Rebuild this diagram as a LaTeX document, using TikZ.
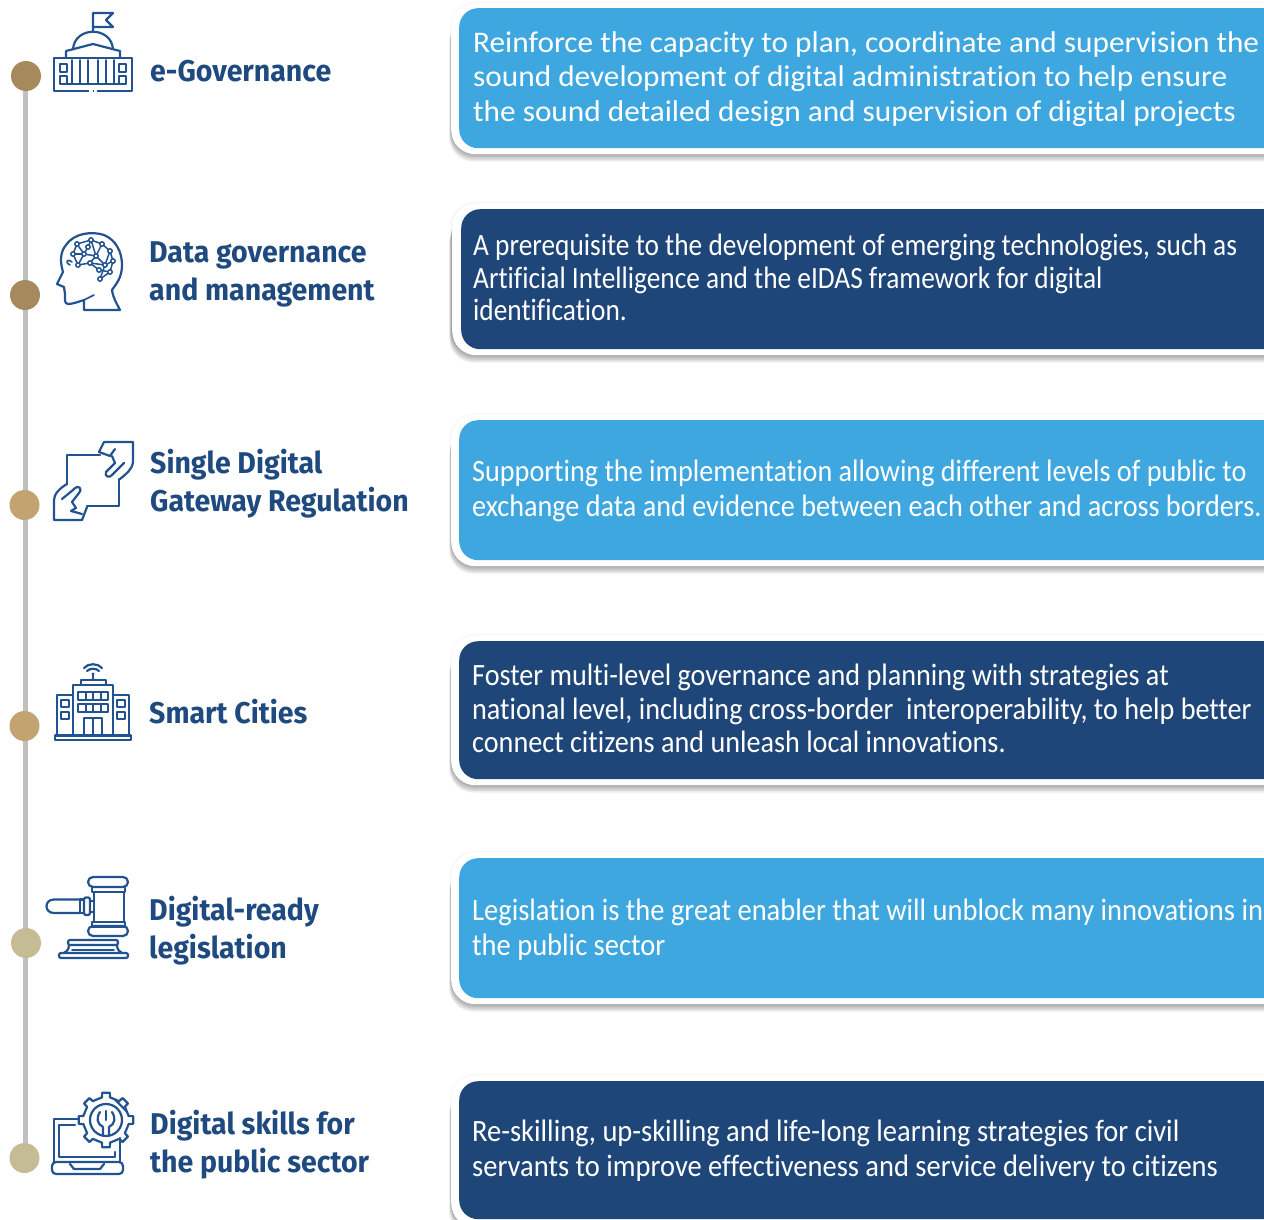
\documentclass[tikz,border=0pt]{standalone}
\usepackage{fontspec}
\usetikzlibrary{backgrounds}
\setmainfont{Carlito}
\newfontfamily\headfont[FakeStretch=0.95]{Fira Sans}
\newfontfamily\bodyA[FakeStretch=1.043,Ligatures=CommonOff]{Carlito}
\newfontfamily\bodyB[FakeStretch=0.882,Ligatures=CommonOff]{Carlito}
\newfontfamily\bodyC[FakeStretch=0.909,Ligatures=CommonOff]{Carlito}
\newfontfamily\bodyD[FakeStretch=0.919,Ligatures=CommonOff]{Carlito}
\definecolor{lightblue}{HTML}{3FA7DF}
\definecolor{darkblue}{HTML}{1F4679}
\definecolor{headblue}{HTML}{1F4A80}
\definecolor{iconblue}{HTML}{22528F}
\definecolor{spinegray}{HTML}{C0C0C0}
\definecolor{dotA}{HTML}{A68A5E}
\definecolor{dotB}{HTML}{C3A36F}
\definecolor{dotC}{HTML}{C5BC95}
\tikzset{
  dot/.style={circle,minimum size=30pt,inner sep=0pt,fill=#1},
  spine/.style={draw=spinegray,line width=5pt},
  head/.style={anchor=west,align=left,inner sep=0pt,text=headblue,font=\headfont\bfseries\fontsize{30}{38}\selectfont},
  txta/.style={anchor=west,align=left,inner sep=0pt,text=white,font=\bodyA\fontsize{30}{34.7}\selectfont},
  txtb/.style={anchor=west,align=left,inner sep=0pt,text=white,font=\bodyB\fontsize{31}{32.5}\selectfont},
  txtc/.style={anchor=west,align=left,inner sep=0pt,text=white,font=\bodyC\fontsize{31}{#1}\selectfont},
  txtd/.style={anchor=west,align=left,inner sep=0pt,text=white,font=\bodyD\fontsize{31}{35}\selectfont},
  panel/.style={anchor=north west,minimum width=830pt,rounded corners=19pt,inner sep=0pt,fill=#1},
  mat/.style={anchor=north west,minimum width=840pt,rounded corners=24pt,inner sep=0pt,fill=white},
  icon/.style={draw=iconblue,line width=2.2pt,line join=round,line cap=round,fill=none},
  thin/.style={draw=iconblue,line width=1.6pt,line join=round,line cap=round,fill=none}
}
\newcommand{\shadowbox}[2]{% top y, height
  \foreach \k in {0,1.5,3,4.5,6,7.5}{
    \fill[black,opacity=0.07,rounded corners=24pt] (451.5-\k*0.3,#1+6+\k*1.5) rectangle (1300,#1+#2+\k);
  }
  \fill[black,opacity=0.03,rounded corners=25pt] (450,#1-1) rectangle (1300,#1+#2);
}
\begin{document}
\begin{tikzpicture}[x=1pt,y=-1pt]
\useasboundingbox (0,0) rectangle (1264,1220);
\clip (0,0) rectangle (1264,1220);

% timeline
\node[dot=dotA] (d1) at (26,76) {};
\node[dot=dotA] (d2) at (25,295) {};
\node[dot=dotB] (d3) at (24.5,505) {};
\node[dot=dotB] (d4) at (24.5,726) {};
\node[dot=dotC] (d5) at (26,943) {};
\node[dot=dotC] (d6) at (24.5,1158) {};
\begin{scope}[on background layer]
\fill[white] (0,0) rectangle (1264,1220);
\foreach \a/\b in {d1/d2,d2/d3,d3/d4,d4/d5,d5/d6}{
  \draw[spine] (25,0 |- \a) -- (25,0 |- \b);
}
\end{scope}

% panels
\shadowbox{3}{151}
\node[mat,minimum height=151pt] (m1) at (451,3) {};
\node[panel=lightblue,minimum height=140pt] (p1) at (459,8) {};
\shadowbox{203}{152}
\node[mat,minimum height=152pt] (m2) at (452,203) {};
\node[panel=darkblue,minimum height=140pt] (p2) at (461,209) {};
\shadowbox{414}{152}
\node[mat,minimum height=152pt] (m3) at (451,414) {};
\node[panel=lightblue,minimum height=140pt] (p3) at (459,420) {};
\shadowbox{635}{150}
\node[mat,minimum height=150pt] (m4) at (451,635) {};
\node[panel=darkblue,minimum height=138pt] (p4) at (459,641) {};
\shadowbox{852}{152}
\node[mat,minimum height=152pt] (m5) at (451,852) {};
\node[panel=lightblue,minimum height=140pt] (p5) at (459,858) {};
\shadowbox{1075}{152}
\node[mat,minimum height=152pt] (m6) at (451,1075) {};
\node[panel=darkblue,minimum height=138pt] (p6) at (459,1081) {};

% panel text
\node[txta] (t1) at (473,79) {Reinforce the capacity to plan, coordinate and supervision the\\sound development of digital administration to help ensure\\the sound detailed design and supervision of digital projects};
\node[txtb] (t2) at (473,277.5) {A prerequisite to the development of emerging technologies, such as\\Artificial Intelligence and the eIDAS framework for digital\\identification.};
\node[txtc=35] (t3) at (472,491) {Supporting the implementation allowing different levels of public to\\exchange data and evidence between each other and across borders.};
\node[txtc=33.5] (t4) at (472,708.5) {Foster multi-level governance and planning with strategies at\\national level, including cross-border\ \ interoperability, to help better\\connect citizens and unleash local innovations.};
\node[txtd] (t5) at (472,930) {Legislation is the great enabler that will unblock many innovations in\\the public sector};
\node[txtd] (t6) at (472,1151) {Re-skilling, up-skilling and life-long learning strategies for civil\\servants to improve effectiveness and service delivery to citizens};

% headings
\node[head] (h1) at (150,71) {e-Governance};
\node[head] (h2) at (149,274) {Data governance\\and management};
\node[head] (h3) at (150,483.5) {Single Digital\\Gateway Regulation};
\node[head] (h4) at (149,712) {Smart Cities};
\node[head] (h5) at (149,931) {Digital-ready\\legislation};
\node[head] (h6) at (150,1145) {Digital skills for\\the public sector};

% icon 1: capitol
\draw[icon] (93,32) -- (93,13) -- (113,13) -- (106,20) -- (113,27) -- (93,27);
\draw[icon] (73,49) .. controls (75,26) and (111,26) .. (113,49);
\draw[icon] (66,58) -- (66,51) -- (93,44) -- (120,51) -- (120,58);
\draw[icon] (54,58) rectangle (132,91);
\foreach \cx in {72,80,88,98,106,114}{\draw[thin] (\cx,60) -- (\cx,84);}
\draw[thin] (66,84) -- (120,84);
\foreach \cy in {64,76}{
 \draw[thin] (60,\cy) rectangle (67,\cy+8);
 \draw[thin] (119,\cy) rectangle (126,\cy+8);
}
\draw[line width=2.4pt,white] (89,91) -- (97,91);
\fill[iconblue] (92.5,90) rectangle (93.5,92);

% icon 2: head
\draw[icon] (120,310) -- (84,310) -- (84,300) .. controls (78,302) and (72,304) .. (68,304)
 .. controls (64,304) and (65,298) .. (65,294) -- (64,287) -- (57,284) -- (63,272)
 .. controls (60,262) and (60,252) .. (66,245) .. controls (74,233) and (92,231) .. (104,235)
 .. controls (116,240) and (122,252) .. (122,265) .. controls (122,278) and (116,284) .. (112,290)
 .. controls (113,298) and (117,304) .. (120,310);
\draw[thin] (84,300) -- (94,295);
\draw[thin] (70,265) .. controls (64,262) and (68,258) .. (72,262);
\coordinate (n1) at (77,244); \coordinate (n2) at (91,240); \coordinate (n3) at (102,244);
\coordinate (n4) at (110,251); \coordinate (n5) at (113,261); \coordinate (n6) at (105,265);
\coordinate (n7) at (96,256); \coordinate (n8) at (84,254); \coordinate (n9) at (73,254);
\coordinate (n10) at (78,265); \coordinate (n11) at (90,263); \coordinate (n12) at (100,279);
\coordinate (n13) at (110,272); \coordinate (n14) at (88,247); \coordinate (n15) at (99,270);
\foreach \a/\b in {n1/n2,n2/n3,n3/n4,n4/n5,n5/n6,n6/n7,n7/n8,n8/n9,n9/n1,n9/n10,n10/n11,n11/n7,n11/n6,n6/n12,n12/n13,n13/n5,n1/n8,n2/n7,n3/n7,n4/n6,n8/n10,n14/n2,n14/n8,n15/n11,n15/n13}{
  \draw[iconblue,line width=1.5pt] (\a) -- (\b);
}
\foreach \a in {n1,n2,n3,n4,n5,n6,n7,n8,n9,n10,n11,n12,n13,n14,n15}{
  \draw[iconblue,line width=1.5pt,fill=white] (\a) circle (2.2);
}

% icon 3: hands and sheet
\draw[icon] (100,455) -- (67,455) -- (67,484);
\draw[icon] (119,479) -- (119,506) -- (87,506);
\draw[icon] (99,452) -- (104,442) -- (133,442) -- (133,462) .. controls (132,470) and (126,474) .. (120,479);
\draw[icon] (99,452) -- (110,456) -- (115,449);
\draw[icon] (112,456) -- (115,463) -- (106,472) .. controls (104,477) and (110,478) .. (112,475) -- (124,463);
\draw[icon] (67,484) .. controls (60,488) and (54,494) .. (54,500) -- (54,520) -- (82,520) -- (87,507);
\draw[icon] (62,499) -- (73,490) .. controls (78,484) and (83,488) .. (79,493) -- (72,502) -- (76,508) -- (71,511);
\draw[icon] (71,511) -- (82,514);

% icon 4: smart building
\draw[icon] (55,735.5) rectangle (131,740);
\draw[icon] (73,735) -- (73,685) -- (113,685) -- (113,735);
\draw[icon] (81,685) -- (81,680) -- (106,680) -- (106,685);
\draw[icon] (93,680) -- (93,675);
\draw[icon] (57,735) -- (57,695) -- (73,695);
\draw[icon] (113,695) -- (129,695) -- (129,735);
\foreach \yy in {700,712}{
  \draw[icon] (61,\yy) rectangle (69,\yy+7);
  \draw[icon] (117,\yy) rectangle (125,\yy+7);
}
\foreach \yy in {692,704}{
  \draw[icon] (78,\yy) rectangle (108,\yy+8);
  \foreach \xx in {86,93,101}{\draw[thin] (\xx,\yy) -- (\xx,\yy+8);}
}
\draw[icon] (84,735) -- (84,718) -- (102,718) -- (102,735);
\draw[thin] (93,718) -- (93,735);
\draw[icon] (84,668) .. controls (88,663) and (98,663) .. (102,668);
\draw[icon] (87,671) .. controls (90,668) and (96,668) .. (99,671);
\fill[iconblue] (93,674) circle (1.6);

% icon 5: gavel
\draw[icon,rounded corners=5pt] (88,877) rectangle (128,887);
\draw[icon] (92,887) rectangle (125,892);
\draw[icon] (94,892) rectangle (124,922);
\draw[icon] (92,922) rectangle (125,927);
\draw[icon,rounded corners=5pt] (88,926) rectangle (128,936);
\draw[icon] (80,899.5) -- (54,899.5) .. controls (44,899.5) and (44,913) .. (54,913) -- (80,913);
\draw[icon] (80,899.5) rectangle (84,913);
\draw[icon,rounded corners=2pt] (84,897.5) rectangle (90,915);
\draw[icon] (90,901) -- (94,901);
\draw[icon] (90,912) -- (94,912);
\draw[icon,rounded corners=2pt] (68,940) rectangle (118,945);
\draw[icon] (69,945) .. controls (69,950) and (66,952) .. (64,953);
\draw[icon] (117,945) .. controls (117,950) and (120,952) .. (122,953);
\draw[thin] (72,950) -- (114,950);
\draw[icon,rounded corners=2pt] (59,953) rectangle (128,958);

% icon 6: laptop and gear
\begin{scope}[shift={(106,1120)}]
\draw[icon] \foreach \a in {0,45,...,315}{
   (\a-22:22.5) -- (\a-10:23) -- (\a-8:27.5) -- (\a+8:27.5) -- (\a+10:23) -- (\a+23:22.5)
   } -- cycle;
\end{scope}
\draw[icon] (106,1120) circle (16);
\draw[icon] (100,1112) .. controls (96,1118) and (97,1124) .. (103,1127) -- (103,1135);
\draw[icon] (112,1112) .. controls (116,1118) and (115,1124) .. (109,1127) -- (109,1135);
\draw[icon] (106,1111) -- (106,1120);
\draw[icon] (78,1119) -- (54,1119) -- (54,1162);
\draw[icon] (75,1125) -- (59,1125) -- (59,1157) -- (115,1157) -- (115,1152);
\draw[icon] (120,1138) -- (120,1162);
\draw[icon,rounded corners=4pt] (52,1162) -- (123,1162) -- (123,1174) -- (52,1174) -- cycle;
\draw[icon] (70,1164) -- (74,1169) -- (100,1169) -- (104,1164);
\end{tikzpicture}
\end{document}
